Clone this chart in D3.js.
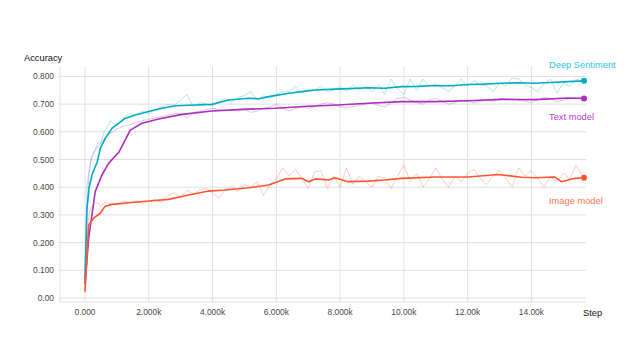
<!DOCTYPE html>
<html><head><meta charset="utf-8">
<script src="https://cdn.jsdelivr.net/npm/d3@7/dist/d3.min.js"></script>
<style>html,body{margin:0;padding:0;background:#fff;}svg{display:block;font-family:"Liberation Sans",Arial,Helvetica,sans-serif;}</style>
</head><body>
<svg id="chart" width="640" height="360"></svg>
<script>
// ---- data ----
const xTicks = [0, 2000, 4000, 6000, 8000, 10000, 12000, 14000];
const xTickLabels = ["0.000", "2.000k", "4.000k", "6.000k", "8.000k", "10.00k", "12.00k", "14.00k"];
const yTicks = [0, 0.1, 0.2, 0.3, 0.4, 0.5, 0.6, 0.7, 0.8];
const yTickLabels = ["0.00", "0.100", "0.200", "0.300", "0.400", "0.500", "0.600", "0.700", "0.800"];
const seriesNames = ["Deep Sentiment", "Text model", "Image model"];

const rawSteps = [0,60,120,200,300,400,500,600,800,1000,1200,1400,1600,1800,2000,2200,2400,2600,2800,3000,
  3200,3400,3600,3800,4000,4200,4400,4600,4800,5000,5200,5400,5600,5800,6000,6200,6400,6600,6800,7000,
  7200,7400,7600,7800,8000,8200,8400,8600,8800,9000,9200,9400,9600,9800,10000,10200,10400,10600,10800,11000,
  11200,11400,11600,11800,12000,12200,12400,12600,12800,13000,13200,13400,13600,13800,14000,14200,14400,14600,14800,15000,
  15200,15400,15600];
const deepRaw = [0.07,0.40,0.46,0.50,0.53,0.56,0.56,0.60,0.64,0.62,0.65,0.665,0.66,0.675,0.665,0.68,0.69,0.70,0.695,0.715,
  0.735,0.69,0.705,0.70,0.695,0.71,0.72,0.705,0.725,0.73,0.745,0.715,0.73,0.72,0.735,0.745,0.745,0.765,0.74,0.755,
  0.75,0.765,0.745,0.75,0.765,0.745,0.77,0.75,0.765,0.745,0.77,0.735,0.79,0.755,0.735,0.79,0.75,0.79,0.765,0.77,
  0.76,0.745,0.765,0.79,0.765,0.785,0.77,0.765,0.745,0.775,0.765,0.795,0.79,0.77,0.76,0.745,0.775,0.79,0.74,0.775,
  0.765,0.79,0.785];
const textRaw = [0.05,0.30,0.44,0.51,0.53,0.545,0.56,0.575,0.595,0.61,0.62,0.625,0.635,0.64,0.645,0.65,0.655,0.66,0.665,0.665,
  0.65,0.67,0.675,0.68,0.685,0.68,0.675,0.68,0.675,0.68,0.67,0.675,0.685,0.69,0.70,0.685,0.675,0.685,0.69,0.685,
  0.69,0.70,0.705,0.70,0.69,0.688,0.69,0.695,0.70,0.705,0.695,0.69,0.705,0.72,0.725,0.715,0.705,0.70,0.715,0.72,
  0.71,0.70,0.705,0.715,0.71,0.705,0.71,0.715,0.71,0.72,0.72,0.72,0.715,0.71,0.705,0.715,0.725,0.72,0.71,0.715,
  0.72,0.725,0.72];
const imageRaw = [0.02,0.22,0.30,0.33,0.34,0.345,0.33,0.345,0.34,0.335,0.35,0.345,0.35,0.34,0.35,0.355,0.345,0.37,0.38,0.365,
  0.39,0.375,0.39,0.395,0.38,0.36,0.39,0.40,0.385,0.41,0.40,0.42,0.37,0.41,0.43,0.47,0.44,0.465,0.43,0.395,
  0.455,0.46,0.395,0.44,0.40,0.47,0.41,0.44,0.42,0.40,0.44,0.43,0.395,0.44,0.48,0.42,0.45,0.40,0.43,0.47,
  0.43,0.40,0.44,0.42,0.45,0.465,0.43,0.41,0.44,0.46,0.43,0.40,0.47,0.44,0.46,0.43,0.40,0.44,0.42,0.45,
  0.43,0.48,0.44];

const deepSmoothSteps = [0,60,130,220,380,480,640,850,1060,1270,1580,2000,2410,2830,3460,3980,4500,5130,5460,5760,6390,6800,7220,7840,8300,8880,9400,9930,10450,10970,11500,12020,12500,13060,13600,14110,14600,15150,15650];
const deepSmooth = [0.07,0.32,0.40,0.445,0.49,0.54,0.577,0.613,0.631,0.649,0.661,0.673,0.685,0.694,0.697,0.699,0.715,0.721,0.719,0.727,0.739,0.745,0.751,0.754,0.756,0.759,0.757,0.763,0.764,0.767,0.766,0.771,0.772,0.775,0.777,0.775,0.778,0.781,0.784];
const textSmoothSteps = [0,115,320,530,740,1060,1420,1790,2310,3040,3980,4920,5970,7010,7930,8880,9930,10970,12020,13060,14110,15150,15650];
const textSmooth = [0.05,0.215,0.384,0.444,0.486,0.526,0.606,0.631,0.646,0.663,0.675,0.681,0.685,0.692,0.697,0.703,0.709,0.709,0.712,0.717,0.716,0.722,0.72];
const imageSmoothSteps = [0,115,270,480,620,850,1470,2000,2620,3250,3880,4400,5130,5760,6280,6800,7010,7220,7640,7840,8250,8880,9400,9930,10970,12020,12960,13690,14110,14730,14940,15360,15650];
const imageSmooth = [0.023,0.264,0.288,0.306,0.330,0.338,0.345,0.350,0.356,0.372,0.386,0.390,0.398,0.408,0.430,0.432,0.42,0.43,0.426,0.434,0.42,0.422,0.426,0.432,0.437,0.437,0.446,0.436,0.434,0.437,0.42,0.432,0.434];

// ---- chart ----
const svg = d3.select("#chart");
const x = d3.scaleLinear().domain([0, 14000]).range([85, 531.4]);
const y = d3.scaleLinear().domain([0, 0.8]).range([298, 76.4]);
const xMin = x.invert(60), xMax = x.invert(586);
const yMin = y.invert(302), yMax = y.invert(66.7);

const grid = svg.append("g");
grid.selectAll("line.h").data(yTicks).join("line")
  .attr("x1", x(xMin)-2).attr("x2", x(xMax)).attr("y1", d => y(d)).attr("y2", d => y(d))
  .attr("stroke", "#e0e0e0").attr("stroke-width", 1);
grid.selectAll("line.v").data(xTicks).join("line")
  .attr("x1", d => x(d)).attr("x2", d => x(d)).attr("y1", y(yMax)).attr("y2", y(yMin))
  .attr("stroke", "#e0e0e0").attr("stroke-width", 1);
grid.append("line").attr("x1", x(xMin)).attr("x2", x(xMin)).attr("y1", y(yMax)).attr("y2", y(yMin))
  .attr("stroke", "#e0e0e0");
grid.append("line").attr("x1", x(xMin)).attr("x2", x(xMax)).attr("y1", y(yMin)).attr("y2", y(yMin))
  .attr("stroke", "#e0e0e0");

svg.append("g").selectAll("text").data(yTicks).join("text")
  .attr("x", 54).attr("y", d => y(d) + 3).attr("text-anchor", "end")
  .attr("font-size", 8.4).attr("fill", "#4a4a4a")
  .text((d, i) => yTickLabels[i]);
svg.append("g").selectAll("text").data(xTicks).join("text")
  .attr("x", d => x(d)).attr("y", 315).attr("text-anchor", "middle")
  .attr("font-size", 8.4).attr("fill", "#4a4a4a")
  .text((d, i) => xTickLabels[i]);
svg.append("text").attr("x", 24).attr("y", 60.5).attr("font-size", 9.3).attr("fill", "#111").text("Accuracy");
svg.append("text").attr("x", 583).attr("y", 315.5).attr("font-size", 9.3).attr("fill", "#111").text("Step");

const lineColors = ["#00acc1", "#ab2fbd", "#ff5630"];
const labelColors = ["#2ec7dc", "#b23fc3", "#ff7655"];
const raws = [deepRaw, textRaw, imageRaw];
const smoothSteps = [deepSmoothSteps, textSmoothSteps, imageSmoothSteps];
const smooths = [deepSmooth, textSmooth, imageSmooth];
const line = d3.line().x(d => x(d[0])).y(d => y(d[1]));

raws.forEach((r, i) => {
  svg.append("path").datum(rawSteps.map((s, j) => [s, r[j]]))
    .attr("d", line).attr("fill", "none").attr("stroke", lineColors[i])
    .attr("stroke-opacity", 0.3).attr("stroke-width", 1);
});
smooths.forEach((sm, i) => {
  const pts = smoothSteps[i].map((s, j) => [s, sm[j]]);
  svg.append("path").datum(pts)
    .attr("d", line).attr("fill", "none").attr("stroke", lineColors[i])
    .attr("stroke-width", 1.6).attr("stroke-linejoin", "round");
  const last = pts[pts.length - 1];
  svg.append("circle").attr("cx", x(last[0])).attr("cy", y(last[1])).attr("r", 3)
    .attr("fill", lineColors[i]);
});

const labelY = [67.5, 120, 203.5];
seriesNames.forEach((n, i) => {
  svg.append("text").attr("x", 549).attr("y", labelY[i]).attr("font-size", 9.3)
    .attr("fill", labelColors[i]).text(n);
});
</script>
</body></html>
